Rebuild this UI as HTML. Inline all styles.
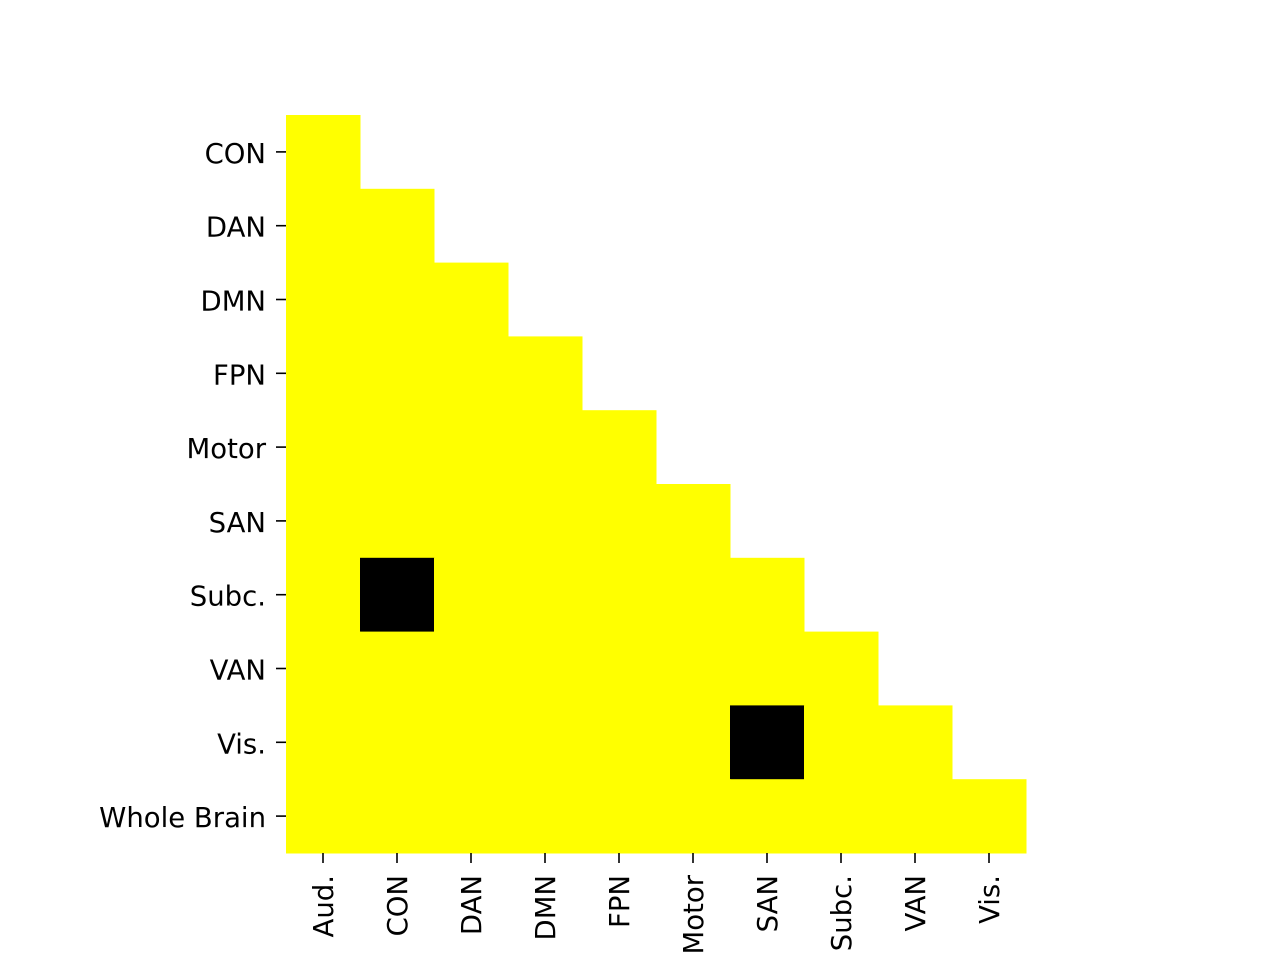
<!DOCTYPE html>
<html><head><meta charset="utf-8"><style>
html,body{margin:0;padding:0;background:#fff;}
svg{display:block;font-family:"DejaVu Sans","Liberation Sans",sans-serif;}
</style></head><body>
<svg id="chart" width="1280" height="960" viewBox="0 0 1280 960" xmlns="http://www.w3.org/2000/svg">
<g id="cells"></g>
<g id="yaxis"></g>
<g id="xaxis"></g>
</svg>
<script>
const rowLabels = ["CON","DAN","DMN","FPN","Motor","SAN","Subc.","VAN","Vis.","Whole Brain"];
const colLabels = ["Aud.","CON","DAN","DMN","FPN","Motor","SAN","Subc.","VAN","Vis."];
// 1 = significant (yellow), 0 = not (black), null = masked
const values = [
 [1,null,null,null,null,null,null,null,null,null],
 [1,1,null,null,null,null,null,null,null,null],
 [1,1,1,null,null,null,null,null,null,null],
 [1,1,1,1,null,null,null,null,null,null],
 [1,1,1,1,1,null,null,null,null,null],
 [1,1,1,1,1,1,null,null,null,null],
 [1,0,1,1,1,1,1,null,null,null],
 [1,1,1,1,1,1,1,1,null,null],
 [1,1,1,1,1,1,0,1,1,null],
 [1,1,1,1,1,1,1,1,1,1]
];
const NS="http://www.w3.org/2000/svg";
const x0=286,x1=1026,y0=115,y1=853;
const cw=(x1-x0)/colLabels.length, ch=(y1-y0)/rowLabels.length;
const xs=i=>x0+i*cw, ys=j=>y0+j*ch;
const cells=document.getElementById('cells');
values.forEach((row,j)=>row.forEach((v,i)=>{
  if(v===null) return;
  const r=document.createElementNS(NS,'rect');
  r.setAttribute('x',xs(i));r.setAttribute('y',ys(j));
  r.setAttribute('width',cw+0.5);r.setAttribute('height',ch+0.5);
  r.setAttribute('fill',v?'#ffff00':'#000000');
  
  
  cells.appendChild(r);
}));
const ya=document.getElementById('yaxis');
rowLabels.forEach((l,j)=>{
  const cy=ys(j)+ch/2;
  const t=document.createElementNS(NS,'line');
  t.setAttribute('x1',276);t.setAttribute('x2',286);t.setAttribute('y1',cy);t.setAttribute('y2',cy);
  t.setAttribute('stroke','#000');t.setAttribute('stroke-width',1.6);
  
  
  ya.appendChild(t);
  const tx=document.createElementNS(NS,'text');
  tx.setAttribute('x',266);tx.setAttribute('y',cy+11);tx.setAttribute('text-anchor','end');
  tx.setAttribute('font-size',27.5);tx.textContent=l;
  
  
  ya.appendChild(tx);
});
const xa=document.getElementById('xaxis');
colLabels.forEach((l,i)=>{
  const cx=xs(i)+cw/2;
  const t=document.createElementNS(NS,'line');
  t.setAttribute('x1',cx);t.setAttribute('x2',cx);t.setAttribute('y1',853);t.setAttribute('y2',863);
  t.setAttribute('stroke','#000');t.setAttribute('stroke-width',1.6);
  
  
  xa.appendChild(t);
  const tx=document.createElementNS(NS,'text');
  tx.setAttribute('transform','translate('+(cx+10)+',875) rotate(-90)');
  tx.setAttribute('text-anchor','end');
  tx.setAttribute('font-size',27.5);tx.textContent=l;
  
  
  xa.appendChild(tx);
});
</script>
</body></html>
